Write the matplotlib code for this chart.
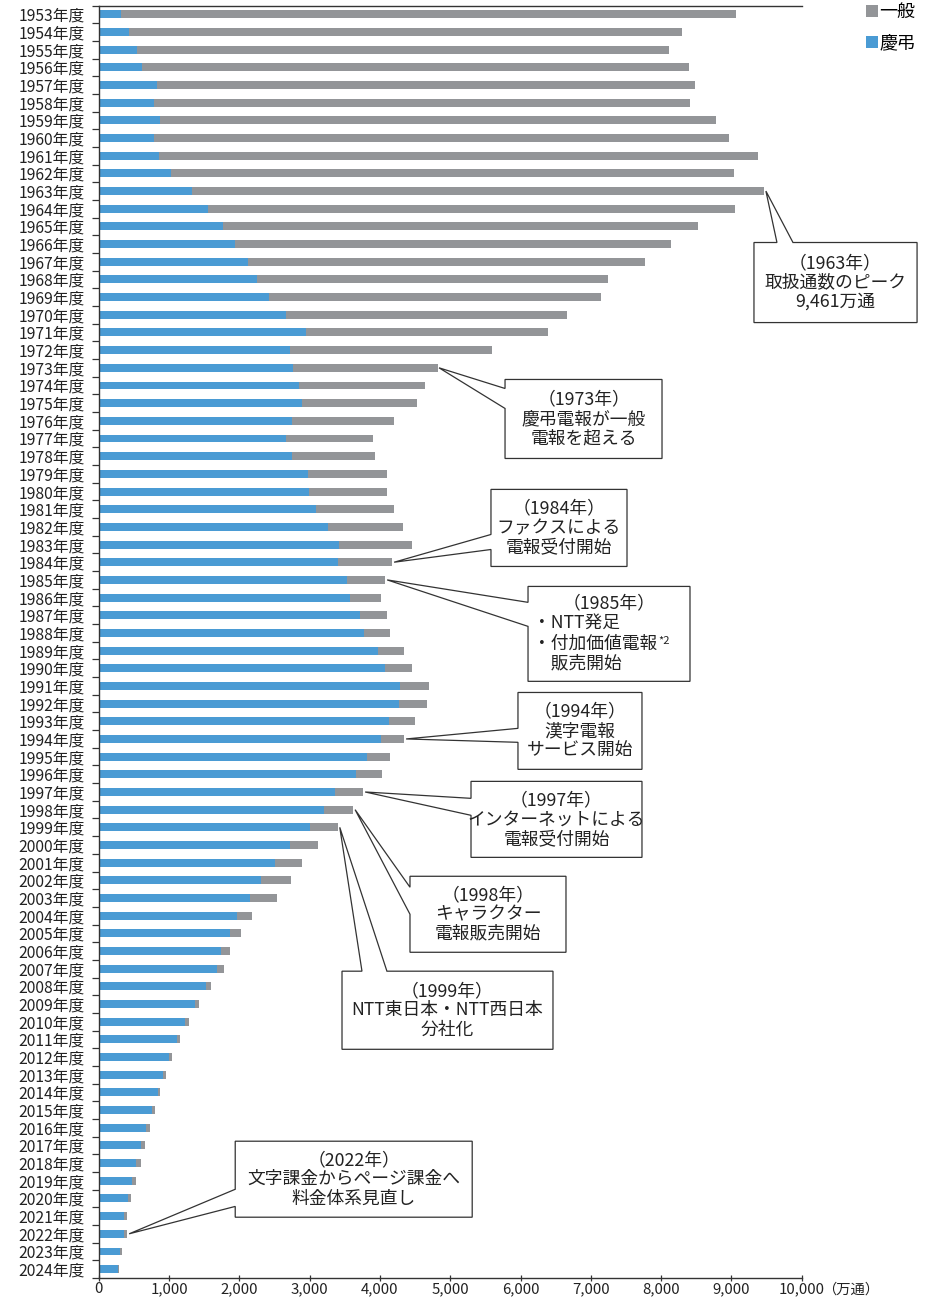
import matplotlib
matplotlib.use("Agg")
import matplotlib.pyplot as plt
from matplotlib.patches import Polygon, Patch
from matplotlib.ticker import FixedLocator
import numpy as np

plt.rcParams['font.family'] = ['Noto Sans CJK JP', 'DejaVu Sans']

# ---------------- data ----------------
years = list(range(1953, 2025))
year_labels = [f"{y}年度" for y in years]

keicho = [317, 431, 545, 616, 829, 787, 872, 787, 858, 1028,
          1327, 1555, 1768, 1939, 2124, 2252, 2423, 2665, 2949, 2721,
          2764, 2849, 2892, 2750, 2665, 2750, 2978, 2992, 3091, 3262,
          3418, 3404, 3532, 3575, 3717, 3774, 3973, 4077, 4286, 4272,
          4129, 4016, 3816, 3660, 3361, 3205, 3006, 2721, 2508, 2309,
          2152, 1967, 1868, 1740, 1683, 1526, 1370, 1228, 1114, 1000,
          915, 844, 758, 673, 602, 531, 474, 417, 360, 360,
          303, 275]

ippan = [8749, 7867, 7567, 7781, 7653, 7624, 7909, 8179, 8520, 8009,
         8134, 7497, 6756, 6202, 5647, 4993, 4722, 3996, 3443, 2874,
         2062, 1792, 1635, 1450, 1237, 1180, 1123, 1109, 1109, 1066,
         1039, 768, 541, 441, 384, 370, 370, 380, 412, 398,
         370, 327, 328, 370, 399, 412, 398, 399, 384, 427,
         385, 214, 156, 128, 100, 71, 57, 56, 42, 43,
         42, 28, 43, 57, 57, 71, 57, 42, 43, 43,
         28, 14]

xticks = list(range(0, 10001, 1000))
xtick_labels = [f"{v:,}" for v in xticks]

series_names = ["一般", "慶弔"]
BLUE = "#4A9BD4"
GRAY = "#939598"
LINE = "#333333"
TXT = "#222222"

# ---------------- figure ----------------
fig = plt.figure(figsize=(9.4, 13), dpi=100)
ax = fig.add_axes([98.7 / 940, 1 - 1278 / 1300, 703 / 940, 1272.5 / 1300])

idx = np.arange(len(years))
k = np.array(keicho)
g = np.array(ippan)
total = k + g

ax.barh(idx, k, height=0.45, color=BLUE, zorder=2)
ax.barh(idx, g, left=k, height=0.45, color=GRAY, zorder=2)

ax.set_xlim(0, 10000)
ax.set_ylim(len(years) - 0.5, -0.5)

ax.set_yticks(idx)
ax.set_yticklabels(year_labels, fontsize=11.3, color=TXT)
ax.yaxis.set_minor_locator(FixedLocator(np.arange(-0.5, len(years), 1.0)))
ax.tick_params(axis='y', which='major', length=0, pad=10)
ax.tick_params(axis='y', which='minor', length=5, width=0.9, color=LINE, direction='out')

ax.set_xticks(xticks)
ax.set_xticklabels(xtick_labels, fontsize=10.8, color=TXT)
ax.tick_params(axis='x', which='major', length=4, width=0.9, color=LINE,
               direction='inout', pad=1)

for s in ['left', 'bottom', 'top']:
    ax.spines[s].set_color(LINE)
    ax.spines[s].set_linewidth(1.0)
ax.spines['right'].set_visible(False)

# unit label after the last x tick label
last_lab = ax.xaxis.get_major_ticks()[-1].label1
ax.annotate("（万通）", xy=(1, 0.5), xycoords=last_lab, xytext=(-2, 0),
            textcoords='offset points', ha='left', va='center',
            fontsize=10.3, color=TXT)

# legend
handles = [Patch(facecolor=GRAY, edgecolor='none', label=series_names[0]),
           Patch(facecolor=BLUE, edgecolor='none', label=series_names[1])]
fig.legend(handles=handles, loc='upper left',
           bbox_to_anchor=(866 / 940, 1 - 3 / 1300), bbox_transform=fig.transFigure,
           frameon=False, fontsize=13, handlelength=0.65, handleheight=0.65,
           handletextpad=0.1, labelspacing=0.75, borderpad=0, borderaxespad=0)

# ---------------- callouts ----------------
def yi(year):
    return years.index(year)

def callout(year, box, base, side, lines, dx=30, fs=12.8):
    L, R, T, B = box
    i = yi(year)
    tip = (total[i] + dx, i)
    if side == 'left':
        y1, y2 = base
        verts = [(L, T), (R, T), (R, B), (L, B), (L, y2), tip, (L, y1)]
    else:  # top
        x1, x2 = base
        verts = [(L, T), (x1, T), tip, (x2, T), (R, T), (R, B), (L, B)]
    poly = Polygon(verts, closed=True, facecolor='white', edgecolor=LINE,
                   linewidth=0.9, zorder=5, clip_on=False, joinstyle='miter')
    ax.add_patch(poly)
    if lines is not None:
        ax.text((L + R) / 2, (T + B) / 2, "\n".join(lines), ha='center', va='center',
                fontsize=fs, linespacing=1.1, color=TXT, zorder=6)

callout(1963, (9321, 11641, 12.91, 17.44), (9648, 9876), 'top',
        ["（1963年）", "取扱通数のピーク", "9,461万通"])
callout(1973, (5780, 8013, 20.66, 25.13), (21.17, 22.30), 'left',
        ["（1973年）", "慶弔電報が一般", "電報を超える"], dx=15)
callout(1984, (5580, 7515, 26.88, 31.24), (29.43, 30.28), 'left',
        ["（1984年）", "ファクスによる", "電報受付開始"])
callout(1985, (6107, 8411, 32.37, 37.74), (33.27, 34.63), 'left', None)
callout(1994, (5964, 7728, 38.37, 42.72), (40.40, 41.19), 'left',
        ["（1994年）", "漢字電報", "サービス開始"])
callout(1997, (5296, 7728, 43.40, 47.70), (44.36, 45.32), 'left',
        ["（1997年）", "インターネットによる", "電報受付開始"])
callout(1998, (4428, 6647, 48.77, 53.07), (49.39, 50.92), 'left',
        ["（1998年）", "キャラクター", "電報販売開始"])
callout(1999, (3461, 6462, 54.14, 58.56), (3745, 4100), 'top',
        ["（1999年）", "NTT東日本・NTT西日本", "分社化"], dx=25)
callout(2022, (1942, 5313, 63.76, 68.06), (66.48, 67.45), 'left',
        ["（2022年）", "文字課金からページ課金へ", "料金体系見直し"])

# 1985 callout text (mixed alignment, superscript note)
ax.text((6107 + 8411) / 2, 33.3, "（1985年）", ha='center', va='center',
        fontsize=12.8, color=TXT, zorder=6)
ax.text(6180, 34.45, "・NTT発足", ha='left', va='center',
        fontsize=12.8, color=TXT, zorder=6)
t3 = ax.text(6180, 35.6, "・付加価値電報", ha='left', va='center',
             fontsize=12.8, color=TXT, zorder=6)
ax.annotate("*2", xy=(1, 1), xycoords=t3, xytext=(0.5, -1), textcoords='offset points',
            ha='left', va='top', fontsize=8, color=TXT, zorder=6)
ax.text(6180, 36.75, "　販売開始", ha='left', va='center',
        fontsize=12.8, color=TXT, zorder=6)

fig.savefig("out.png", dpi=100)
